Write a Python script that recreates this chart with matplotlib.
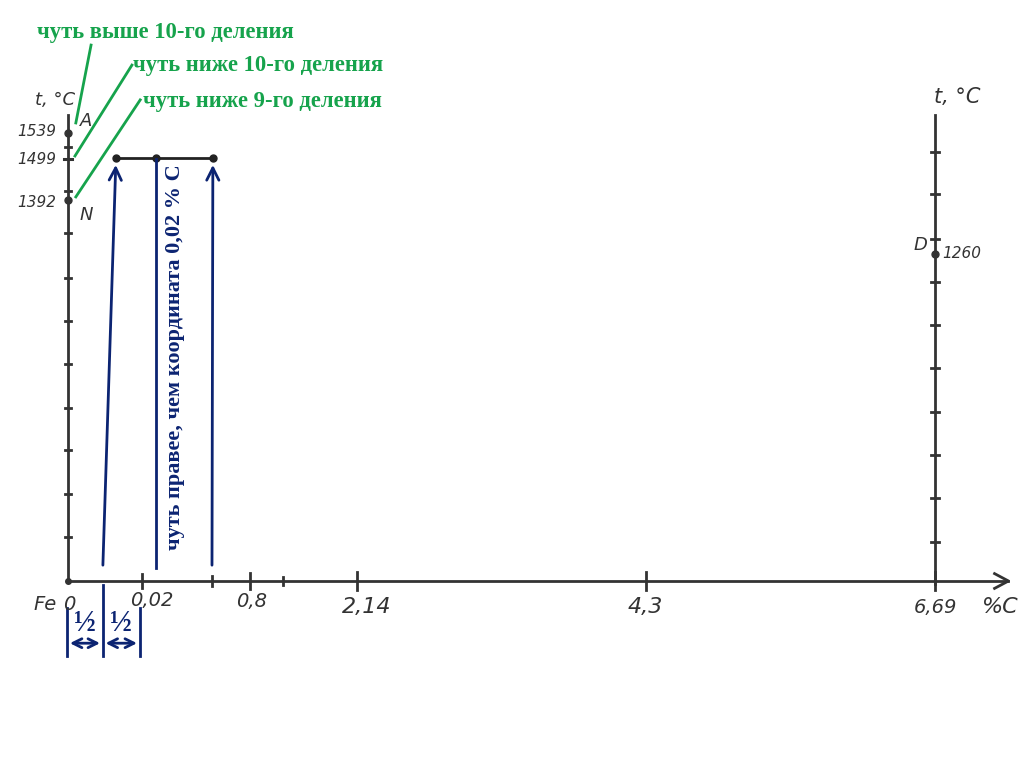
import matplotlib
matplotlib.use("Agg")
import matplotlib.pyplot as plt

# Schematic positions in "division" units (one temperature division on the drawing)
# left temperature axis (Fe side)
left_ticks = [1.01, 2.0, 3.01, 3.98, 4.99, 5.98, 6.97, 8.0, 8.97, 9.98]
left_points = {"A": 10.30, "N": 8.76}
left_labels = ["1539", "1499", "1392"]
left_label_y = [10.34, 9.68, 8.69]
y_1499 = 9.70

# right temperature axis (Fe3C side)
right_x = 19.93
right_ticks = [0.9, 1.91, 2.9, 3.89, 4.9, 5.89, 6.87, 7.86, 8.9, 9.86]
d_y = 7.52

# carbon axis
x_tick_pos = [1.70, 3.31, 4.18, 4.94, 6.64, 13.29, 19.93]
x_tick_size = [0.16, 0.12, 0.18, 0.1, 0.2, 0.2, 0.2]
x_labels = ["0", "0,02", "0,8", "2,14", "4,3", "6,69"]
x_label_pos = [0.02, 1.93, 4.21, 6.87, 13.26, 19.93]
x_label_y = [-0.53, -0.44, -0.48, -0.6, -0.6, -0.6]
x_label_fs = [14, 14, 14, 16, 16, 14]

# peritectic line at 1499
peri_x = [1.10, 2.02, 3.33]

# green notes
notes = ["чуть выше 10-го деления", "чуть ниже 10-го деления", "чуть ниже 9-го деления"]
note_xy = [(-0.71, 12.6), (1.49, 11.86), (1.72, 11.03)]
note_lines = [((0.53, 12.32), (0.18, 10.53)),
              ((1.47, 11.86), (0.16, 9.77)),
              ((1.66, 11.06), (0.18, 8.83))]

GREEN = "#16a34c"
NAVY = "#0c2472"
INK = "#333333"
hand = dict(family="DejaVu Sans", style="italic", color=INK)

U = 43.5
fig = plt.figure(figsize=(10.24, 7.67), dpi=100)
ax = fig.add_axes([0, 0, 1, 1])
ax.set_xlim(-68 / U, (1024 - 68) / U)
ax.set_ylim(-(767 - 581) / U, 581 / U)
ax.axis("off")

# axes lines
ax.plot([0, 0], [0, 10.71], color=INK, lw=2)
ax.plot([0, 21.6], [0, 0], color=INK, lw=2)
ax.plot([21.3, 21.62, 21.3], [0.17, 0, -0.17], color=INK, lw=2)
ax.plot([right_x, right_x], [-0.08, 10.71], color=INK, lw=2)
ax.plot([0], [0], "o", color=INK, ms=4)

for t in left_ticks:
    ax.plot([-0.08, 0.08], [t, t], color=INK, lw=2)
for t in right_ticks:
    ax.plot([right_x - 0.1, right_x + 0.1], [t, t], color=INK, lw=2)
for xp, s in zip(x_tick_pos, x_tick_size):
    ax.plot([xp, xp], [-s, s], color=INK, lw=2)

# points on left axis
for name, yv in left_points.items():
    ax.plot([0], [yv], "o", color=INK, ms=5)
ax.plot([-0.1, 0.1], [y_1499, y_1499], color=INK, lw=2.2)
ax.text(0.41, 10.57, "A", fontsize=13, ha="center", va="center", **hand)
ax.text(0.41, 8.41, "N", fontsize=13, ha="center", va="center", **hand)
for lab, yv in zip(left_labels, left_label_y):
    ax.text(-0.71, yv, lab, fontsize=11, ha="center", va="center", **hand)
ax.text(-0.30, 11.06, "t, °C", fontsize=13, ha="center", va="center", **hand)

# D point on right axis
ax.plot([right_x], [d_y], "o", color=INK, ms=5)
ax.text(19.59, 7.72, "D", fontsize=13, ha="center", va="center", **hand)
ax.text(20.55, 7.52, "1260", fontsize=11, ha="center", va="center", **hand)
ax.text(20.44, 11.13, "t, °C", fontsize=15, ha="center", va="center", **hand)

# carbon axis labels
for lab, xp, yp, fs in zip(x_labels, x_label_pos, x_label_y, x_label_fs):
    ax.text(xp, yp, lab, fontsize=fs, ha="center", va="center", **hand)
ax.text(-0.53, -0.53, "Fe", fontsize=14, ha="center", va="center", **hand)
ax.text(21.43, -0.6, "%C", fontsize=16, ha="center", va="center", **hand)

# 1499 horizontal line
ax.plot(peri_x, [y_1499 + 0.02] * 3, color="#222222", lw=2, marker="o", ms=5)

# navy construction lines
arrow = dict(arrowstyle="->", color=NAVY, lw=2, mutation_scale=22)
ax.annotate("", xy=(peri_x[0], 9.63), xytext=(0.80, 0.30), arrowprops=arrow)
ax.annotate("", xy=(peri_x[2], 9.63), xytext=(3.31, 0.30), arrowprops=arrow)
ax.plot([peri_x[1], peri_x[1]], [0.30, 9.70], color=NAVY, lw=2)
ax.text(2.46, 5.15, "чуть правее, чем координата 0,02 % С", rotation=90,
        fontsize=16, fontweight="bold", family="Liberation Serif",
        color=NAVY, ha="center", va="center")

# half-division dimension marks
for xp, y0 in zip([-0.02, 0.80, 1.65], [-0.62, -0.09, -0.62]):
    ax.plot([xp, xp], [y0, -1.72], color=NAVY, lw=2)
dim = dict(arrowstyle="<->", color=NAVY, lw=2, mutation_scale=16)
ax.annotate("", xy=(-0.02, -1.43), xytext=(0.80, -1.43), arrowprops=dim)
ax.annotate("", xy=(0.80, -1.43), xytext=(1.65, -1.43), arrowprops=dim)
for xp in [0.39, 1.22]:
    ax.text(xp, -0.97, "½", fontsize=21, fontweight="bold", family="Liberation Serif",
            color=NAVY, ha="center", va="center")

# green notes
for txt, (xp, yp) in zip(notes, note_xy):
    ax.text(xp, yp, txt, fontsize=16.3, fontweight="bold", family="Liberation Serif",
            color=GREEN, ha="left", va="center")
for (p0, p1) in note_lines:
    ax.plot([p0[0], p1[0]], [p0[1], p1[1]], color=GREEN, lw=2)

fig.savefig("out.png", dpi=100, facecolor="white")
